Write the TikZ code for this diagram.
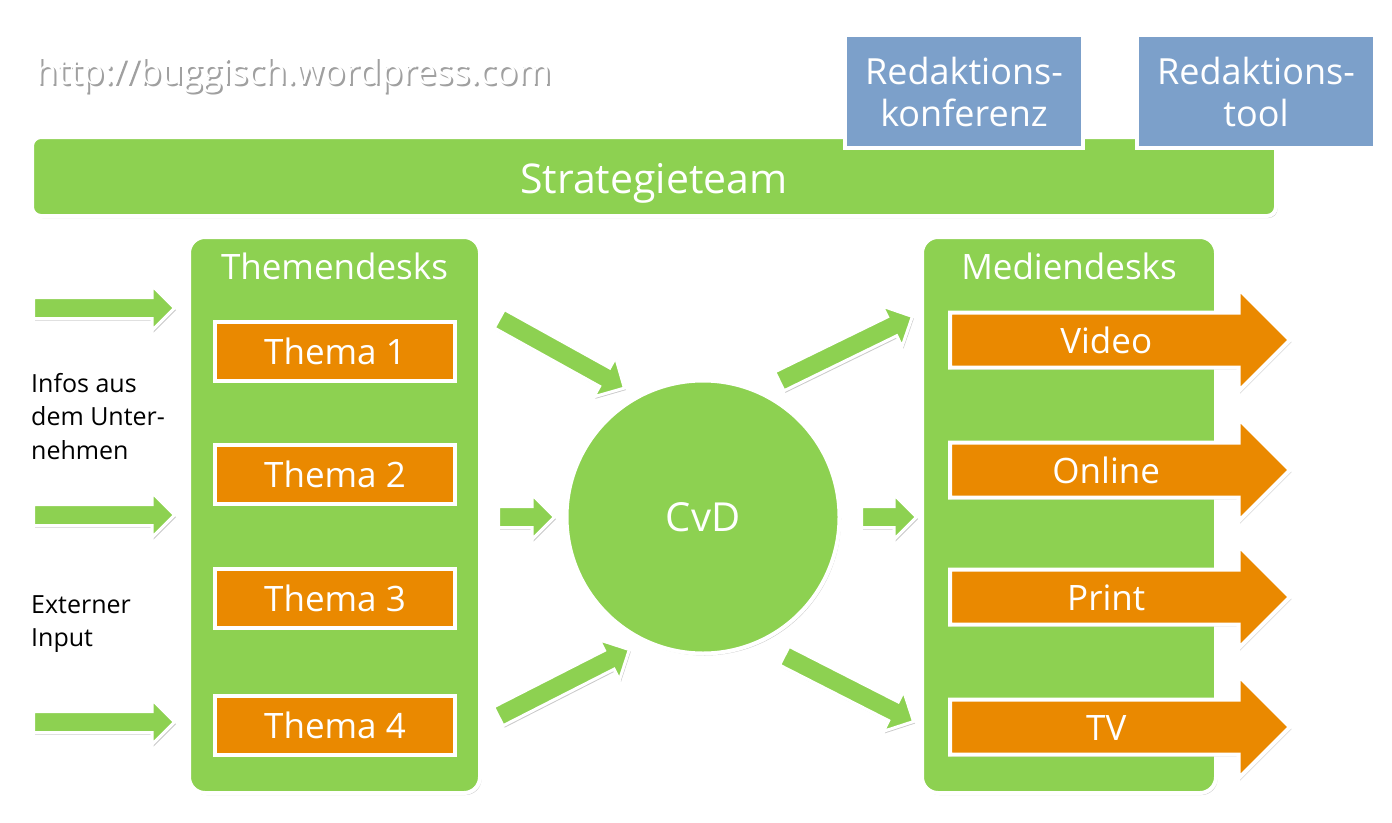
\documentclass[tikz,border=0pt]{standalone}
\usepackage{fontspec}
\setmainfont{Open Sans}
\usetikzlibrary{positioning, shapes.arrows, shadows}

\definecolor{deskgreen}{RGB}{141,209,81}
\definecolor{deskorange}{RGB}{234,137,0}
\definecolor{deskblue}{RGB}{124,160,202}

\newcommand{\deskfont}{\fontsize{35}{42}\selectfont}
\newcommand{\infofont}{\fontsize{25}{33.5}\selectfont}

\tikzset{
  softshadow/.style={drop shadow={shadow xshift=1.5pt, shadow yshift=-2pt, opacity=0.3, fill=black!70}},
  box/.style={draw=white, line width=4pt, softshadow, text=white, align=center, inner sep=0pt, font=\deskfont},
  bar/.style={box, fill=deskgreen, rounded corners=9pt, font=\fontsize{41}{48}\selectfont, text height=35, text depth=2},
  desk/.style={box, fill=deskgreen, rounded corners=16pt},
  tool/.style={box, fill=deskblue, font=\fontsize{36}{42}\selectfont},
  thema/.style={box, fill=deskorange},
  hub/.style={box, fill=deskgreen, circle, font=\fontsize{40}{48}\selectfont},
  flow/.style={single arrow, draw=white, line width=3pt, fill=deskgreen, softshadow, inner xsep=0pt,
    inner ysep=9pt, anchor=tail, minimum width=42, single arrow head extend=12, single arrow tip angle=90},
  medium/.style={single arrow, box, fill=deskorange, anchor=tail, minimum height=340, text height=30,
    text depth=4, inner ysep=8.5pt, minimum width=100, single arrow head extend=24, single arrow tip angle=90},
  info/.style={anchor=north west, align=left, inner sep=0pt, font=\infofont}
}

\begin{document}
\begin{tikzpicture}[x=1pt, y=-1pt]
\useasboundingbox (0,0) rectangle (1392,822);

% web address
\node[anchor=west, text=black!50, opacity=0.75, font=\fontsize{35.5}{40}\selectfont] (urlshade) at (34,77.5) {http://buggisch.wordpress.com};
\node[anchor=west, text=white, font=\fontsize{35.5}{40}\selectfont] (url) at (32,75) {http://buggisch.wordpress.com};

% top row
\node[bar, minimum width=1244, minimum height=79] (strat) at (654,176.5) {Strategieteam};
\node[tool, minimum width=238, minimum height=113] (konf) at (964,91.5) {Redaktions-\\konferenz};
\node[tool, minimum width=238, minimum height=113] (rtool) at (1256,91.5) {Redaktions-\\tool};

% desks
\node[desk, minimum width=291, minimum height=556] (themen) at (334.5,515) {};
\node[text=white, font=\deskfont, anchor=north, inner sep=0pt] (thementitle) at ([yshift=-18pt]themen.north) {Themendesks};
\node[desk, minimum width=294, minimum height=556] (medien) at (1069,515) {};
\node[text=white, font=\deskfont, anchor=north, inner sep=0pt] (medientitle) at ([yshift=-18pt]medien.north) {Mediendesks};

\node[thema, minimum width=240, minimum height=59] (t1) at (335,351.5) {Thema 1};
\node[thema, minimum width=240, minimum height=59] (t2) at (335,474) {Thema 2};
\node[thema, minimum width=240, minimum height=59] (t3) at (335,598) {Thema 3};
\node[thema, minimum width=240, minimum height=59] (t4) at (335,725) {Thema 4};

\node[hub, minimum size=273] (cvd) at (703,517) {CvD};

% media outputs
\node[medium] (video) at (948,340) {Video};
\node[medium] (online) at (948,470) {Online};
\node[medium] (print) at (948,597) {Print};
\node[medium] (tv) at (948,727) {TV};

% inputs
\node[flow, minimum height=141] (in1) at (32,308) {};
\node[flow, minimum height=141] (in2) at (32,515) {};
\node[flow, minimum height=141] (in3) at (32,722) {};
\node[info] (infos) at (31,373) {Infos aus\\dem Unter-\\nehmen};
\node[info] (extern) at (31,595) {Externer\\Input};

% flows into and out of the CvD
\node[flow, minimum height=143, rotate=-29] (f1) at (498,318) {};
\node[flow, minimum height=56] (f2) at (497,517) {};
\node[flow, minimum height=147, rotate=27] (f3) at (497,717) {};
\node[flow, minimum height=148, rotate=26] (g1) at (778,382) {};
\node[flow, minimum height=55] (g2) at (860,517) {};
\node[flow, minimum height=145, rotate=-27] (g3) at (783,655) {};
\end{tikzpicture}
\end{document}
